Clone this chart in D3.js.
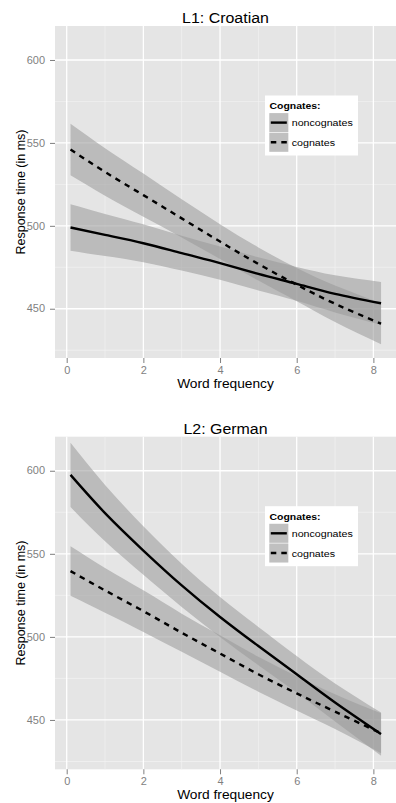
<!DOCTYPE html>
<html>
<head>
<meta charset="utf-8">
<script src="https://cdn.jsdelivr.net/npm/d3@7"></script>
<style>
  body { margin: 0; background: #fff; }
  svg { display: block; }
  text { font-family: 'Liberation Sans', Arial, Helvetica, sans-serif; }
</style>
</head>
<body>
<svg id="chart" width="396" height="803"></svg>
<script>
// Word frequency values at which the fitted curves are evaluated
const freq = [0.1, 1, 2, 3, 4, 5, 6, 7, 8.2];
const xTicks = [0, 2, 4, 6, 8];
const xMinor = [1, 3, 5, 7];
const yTicks = [450, 500, 550, 600];
const yMinor = [425, 475, 525, 575];
const seriesNames = ["noncognates", "cognates"];
const legendTitle = "Cognates:";
const panelTitles = ["L1: Croatian", "L2: German"];
const xLabel = "Word frequency";
const yLabel = "Response time (in ms)";

// L1: Croatian
const croNonFit = [499, 494.5, 489.5, 483.5, 477.5, 471, 465, 459, 453.3];
const croNonLo  = [485, 481.8, 478.1, 473, 467.5, 461, 454.8, 447.8, 440.4];
const croNonHi  = [513, 507.2, 500.9, 494, 487.5, 481, 475.2, 470.2, 466.2];
const croCogFit = [546, 532.5, 518.5, 504.5, 490.5, 477, 464.5, 453, 441];
const croCogLo  = [530.5, 518.2, 505.5, 493, 480, 467, 454.5, 442, 428.6];
const croCogHi  = [561.5, 546.8, 531.5, 516, 501, 487, 474.5, 464, 453.4];

// L2: German
const gerNonFit = [597.5, 574.5, 552, 531, 512, 494.5, 477.5, 460.5, 441.5];
const gerNonLo  = [578.2, 557.5, 537.4, 518, 500, 483, 466.5, 449, 428.5];
const gerNonHi  = [616.8, 591.5, 566.6, 544, 524, 506, 488.5, 472, 454.5];
const gerCogFit = [539.6, 528, 515.5, 502.5, 490, 477.5, 466, 455, 442];
const gerCogLo  = [524.7, 514.5, 503, 491, 479, 467, 455.7, 444.5, 430];
const gerCogHi  = [554.5, 541.5, 528, 514, 501, 488, 476.3, 465.5, 454];

const toPoints = (fit, lo, hi) => freq.map((f, i) => ({ x: f, fit: fit[i], lo: lo[i], hi: hi[i] }));

const panels = [
  { title: panelTitles[0], top: 26, bottom: 358,
    series: [toPoints(croNonFit, croNonLo, croNonHi), toPoints(croCogFit, croCogLo, croCogHi)] },
  { title: panelTitles[1], top: 436.7, bottom: 769.3,
    series: [toPoints(gerNonFit, gerNonLo, gerNonHi), toPoints(gerCogFit, gerCogLo, gerCogHi)] }
];

const svg = d3.select("#chart");
const LEFT = 55, RIGHT = 396;
const SX = 1.1;            // horizontal text stretch
const dashes = [null, "5.5,5.2"];
const bandFill = "#999999", bandOpacity = 0.56;
const tickGrey = "#7f7f7f";

panels.forEach((p, pi) => {
  const g = svg.append("g");
  const x = d3.scaleLinear().domain([-0.305, 8.59]).range([LEFT, RIGHT]);
  const y = d3.scaleLinear().domain([420.3, 620.5]).range([p.bottom, p.top]);

  const clipId = "clip" + pi;
  svg.append("clipPath").attr("id", clipId).append("rect")
    .attr("x", LEFT).attr("y", p.top).attr("width", RIGHT - LEFT).attr("height", p.bottom - p.top);

  // panel background
  g.append("rect").attr("x", LEFT).attr("y", p.top)
    .attr("width", RIGHT - LEFT).attr("height", p.bottom - p.top).attr("fill", "#e5e5e5");

  // grid lines
  const grid = g.append("g");
  grid.selectAll(".vminor").data(xMinor).join("line")
    .attr("x1", d => x(d)).attr("x2", d => x(d)).attr("y1", p.top).attr("y2", p.bottom)
    .attr("stroke", "#f2f2f2").attr("stroke-width", 0.7);
  grid.selectAll(".hminor").data(yMinor).join("line")
    .attr("y1", d => y(d)).attr("y2", d => y(d)).attr("x1", LEFT).attr("x2", RIGHT)
    .attr("stroke", "#f2f2f2").attr("stroke-width", 0.7);
  grid.selectAll(".vmajor").data(xTicks).join("line")
    .attr("x1", d => x(d)).attr("x2", d => x(d)).attr("y1", p.top).attr("y2", p.bottom)
    .attr("stroke", "#ffffff").attr("stroke-width", 1.3);
  grid.selectAll(".hmajor").data(yTicks).join("line")
    .attr("y1", d => y(d)).attr("y2", d => y(d)).attr("x1", LEFT).attr("x2", RIGHT)
    .attr("stroke", "#ffffff").attr("stroke-width", 1.3);

  const plot = g.append("g").attr("clip-path", `url(#${clipId})`);
  const area = d3.area().x(d => x(d.x)).y0(d => y(d.lo)).y1(d => y(d.hi)).curve(d3.curveNatural);
  const line = d3.line().x(d => x(d.x)).y(d => y(d.fit)).curve(d3.curveNatural);

  p.series.forEach(s => {
    plot.append("path").attr("d", area(s)).attr("fill", bandFill).attr("fill-opacity", bandOpacity);
  });
  p.series.forEach((s, si) => {
    plot.append("path").attr("d", line(s)).attr("fill", "none")
      .attr("stroke", "#000").attr("stroke-width", 2.4)
      .attr("stroke-dasharray", dashes[si]);
  });

  // axes
  const yAxis = g.append("g").attr("transform", `translate(${LEFT},0)`)
    .call(d3.axisLeft(y).tickValues(yTicks).tickSize(5).tickPadding(4));
  const xAxis = g.append("g").attr("transform", `translate(0,${p.bottom})`)
    .call(d3.axisBottom(x).tickValues(xTicks).tickSize(5).tickPadding(4));
  [yAxis, xAxis].forEach(a => {
    a.select(".domain").remove();
    a.selectAll(".tick line").attr("stroke", tickGrey).attr("stroke-width", 1);
    a.selectAll(".tick text").attr("fill", tickGrey).attr("font-size", 10)
      .attr("font-family", "'Liberation Sans', Arial, sans-serif")
      .attr("transform", `scale(${SX},1)`);
  });

  // titles
  g.append("text").attr("transform", `translate(${(LEFT + RIGHT) / 2},${p.top - 3}) scale(${SX},1)`)
    .attr("text-anchor", "middle").attr("font-size", 14.5).attr("fill", "#000").text(p.title);
  g.append("text").attr("transform", `translate(${(LEFT + RIGHT) / 2},${p.bottom + 29.5}) scale(${SX},1)`)
    .attr("text-anchor", "middle").attr("font-size", 12.5).attr("fill", "#000").text(xLabel);
  g.append("text").attr("transform", `translate(25,${(p.top + p.bottom) / 2}) rotate(-90)`)
    .attr("text-anchor", "middle").attr("font-size", 12.5).attr("fill", "#000").text(yLabel);

  // legend
  const lg = g.append("g").attr("transform", `translate(265,${p.top + 69.5})`);
  lg.append("rect").attr("width", 93).attr("height", 60).attr("fill", "#fff");
  lg.append("text").attr("transform", `translate(4.5,13.3) scale(${SX},1)`)
    .attr("font-size", 9.5).attr("font-weight", "bold").attr("fill", "#000").text(legendTitle);
  seriesNames.forEach((name, si) => {
    const ky = 17.6 + si * 19.7;
    const k = lg.append("g").attr("transform", `translate(4.3,${ky})`);
    k.append("rect").attr("width", 19).attr("height", 19).attr("fill", "#f2f2f2");
    k.append("rect").attr("width", 19).attr("height", 19).attr("fill", bandFill).attr("fill-opacity", bandOpacity);
    k.append("line").attr("x1", 1.5).attr("x2", 17.5).attr("y1", 9.5).attr("y2", 9.5)
      .attr("stroke", "#000").attr("stroke-width", 2.4)
      .attr("stroke-dasharray", si === 1 ? "5.5,5" : null);
    lg.append("text").attr("transform", `translate(26.7,${ky + 13.2}) scale(${SX},1)`)
      .attr("font-size", 9.7).attr("fill", "#000").text(name);
  });
});
</script>
</body>
</html>
